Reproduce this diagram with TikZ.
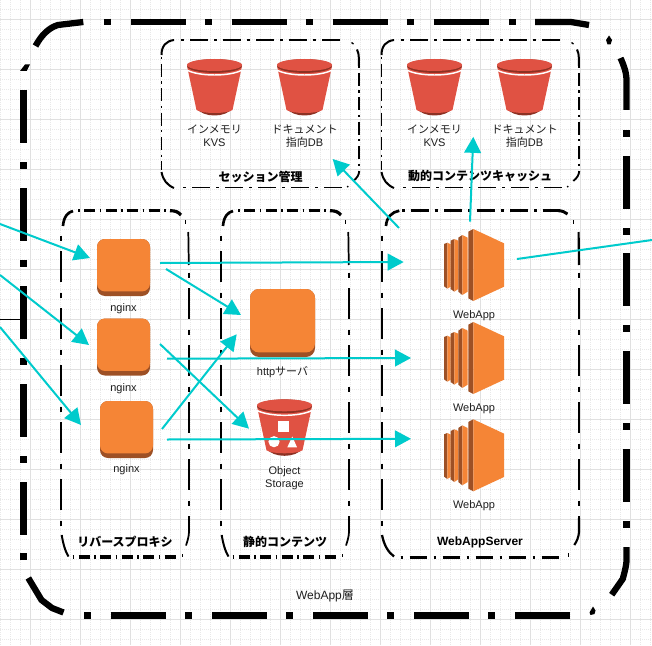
\documentclass[tikz,border=0pt]{standalone}
\usepackage{fontspec}
\setmainfont{Liberation Sans}
\newfontfamily\jp{Noto Sans CJK JP}
\usetikzlibrary{arrows.meta}
\definecolor{awsorange}{HTML}{F58536}
\definecolor{awsbrown}{HTML}{9D5025}
\definecolor{awsred}{HTML}{E05243}
\definecolor{awsdark}{HTML}{8C3123}
\definecolor{flowc}{HTML}{00CBCC}
\definecolor{gridmajor}{HTML}{E0E0E0}
\definecolor{gridminor}{HTML}{E8E8E8}
\definecolor{txt}{HTML}{1E1E1E}
\tikzset{
  anchorbox/.style={inner sep=0pt,outer sep=0pt,draw=none},
  small/.style={inner sep=0pt,align=center,text=txt,font=\fontsize{8.25}{9.4}\selectfont},
  grouptitle/.style={inner sep=0pt,align=center,text=black,font=\fontsize{9}{11}\selectfont\bfseries},
  flow/.style={draw=flowc,line width=1.5pt,-{Triangle[length=12pt,width=12.5pt]}},
  flowplain/.style={draw=flowc,line width=1.5pt},
  thickcorner/.style={line width=4.7pt,line join=round},
}
% side with scaled dash-dot: start at a dot. #1 from, #2 to, #3 period in px, #4 width in px
\newcommand\dside[4]{%
  \pgfmathsetmacro\dsa{0.75*0.53*#3}\pgfmathsetmacro\dsb{0.75*0.19*#3}\pgfmathsetmacro\dsc{0.75*0.09*#3}%
  \draw[line width=#4*0.75pt,dash pattern=on \dsc pt off \dsb pt on \dsa pt off \dsb pt] #1 -- #2;}
\newcommand\bucketshape[2]{%
  \begin{scope}[shift={(#1,#2)}]
    \fill[awsdark] (-18,49) .. controls (-12,59) and (12,59) .. (18,49) -- cycle;
    \fill[awsred] (-27.3,8) -- (-18,51) .. controls (-12,55) and (12,55) .. (18,51) -- (27.3,8) -- cycle;
    \draw[white,line width=1.1pt] (-27.4,11.2) .. controls (-15,17.6) and (15,17.6) .. (27.4,11.2);
    \fill[awsdark] (0,7) ellipse [x radius=27.5,y radius=6.9];
    \fill[awsred] (0,6) ellipse [x radius=27.5,y radius=6];
  \end{scope}}
\newcommand\ectwo[2]{%
  \begin{scope}[shift={(#1,#2)}]
    \fill[awsbrown] (0,0) -- (3.3,-1.3) -- (3.3,44.7) -- (0,42.3) -- cycle;
    \fill[awsorange] (3.3,-1.3) -- (6.7,0.3) -- (6.7,42.7) -- (3.3,44.7) -- cycle;
    \fill[awsbrown] (6.7,-3.3) -- (10.3,-5) -- (10.3,47.7) -- (6.7,45) -- cycle;
    \fill[awsorange] (10.3,-5) -- (14.3,-3.3) -- (14.3,45) -- (10.3,47.7) -- cycle;
    \fill[awsbrown] (14.3,-6.3) -- (18.3,-9) -- (18.3,51) -- (14.3,47.7) -- cycle;
    \fill[awsorange] (18.3,-9) -- (23.7,-6.3) -- (23.7,47.7) -- (18.3,51) -- cycle;
    \fill[awsbrown] (24.3,-12.3) -- (29.3,-15) -- (29.3,57) -- (24.3,54.3) -- cycle;
    \fill[awsorange] (29.3,-15) -- (60,-0.7) -- (60,42.7) -- (29.3,57) -- cycle;
  \end{scope}}
\newcommand\orangeicon[6]{% name, cx, cy, w, h, radius
  \node[anchorbox,fill=awsbrown,rounded corners=#6*0.75pt,minimum width=#4*0.75pt,minimum height=#5*0.75pt] (#1) at (#2,#3) {};
  \fill[awsorange,rounded corners=#6*0.75pt] (#1.north west) rectangle ([yshift=3.4pt]#1.south east);}
\begin{document}
\begin{tikzpicture}[x=0.75pt,y=-0.75pt]
\useasboundingbox (0,0) rectangle (652,645);
\fill[white] (0,0) rectangle (652,645);
% grid
\begin{scope}
\clip (0,0) rectangle (652,645);
\foreach \i in {0,...,65}{
  \pgfmathsetmacro\gx{0.7+10*\i}
  \draw[gridminor,line width=0.5pt,dash pattern=on 0.75pt off 0.75pt] (\gx,0) -- (\gx,645);
}
\foreach \i in {0,...,64}{
  \pgfmathsetmacro\gy{9.3+10*\i}
  \draw[gridminor,line width=0.5pt,dash pattern=on 0.75pt off 0.75pt] (0,\gy) -- (652,\gy);
}
\foreach \i in {0,...,13}{
  \pgfmathsetmacro\gx{30.7+50*\i}
  \draw[gridmajor,line width=0.75pt] (\gx,0) -- (\gx,645);
}
\foreach \i in {0,...,12}{
  \pgfmathsetmacro\gy{19.3+50*\i}
  \draw[gridmajor,line width=0.75pt] (0,\gy) -- (652,\gy);
}
\end{scope}
% WebApp layer frame
\coordinate (layerleft) at (23.4,319);
\coordinate (farleft) at (0,319);
\foreach \s in {104,205,306,407,509}{\fill (\s,18.8) rectangle ++(7,6.4);}
\foreach \s in {131,232,333,434}{\fill (\s,18.8) rectangle ++(54.5,6.4);}
\draw[thickcorner,line join=bevel] (35.5,46) .. controls (41,36) and (48,28) .. (58,25) -- (83.3,22);
\draw[thickcorner,line join=bevel] (535,22) -- (571,22) -- (589,25);
\fill (609,35.5) -- (612,40) -- (610.5,44.5) -- (607.5,44.5) -- (606,40) -- cycle;
\fill (20,71) -- (25,64.5) -- (30,64.5) -- (26.7,71) -- cycle;
\draw[thickcorner,line join=bevel] (620.5,58) .. controls (624,66) and (626.5,72) .. (626.6,82) -- (626.6,110);
\foreach \s in {130,228,325,423,521}{\fill (623.2,\s) rectangle ++(6.8,6.8);}
\foreach \s in {156,253,351,449}{\fill (623.2,\s) rectangle ++(6.8,52.7);}
\draw[thickcorner,line join=bevel] (626.6,547) -- (626.6,560) .. controls (626,568) and (624,574) .. (622.7,579) -- (611.7,594.7);
\fill (593,606.5) -- (595.5,610.5) -- (594.5,614) -- (590.5,615) -- (589.5,612.5) -- cycle;
\foreach \s in {515,414,313,212,111}{\fill (\s,612.2) rectangle ++(54.5,6.6);}
\foreach \s in {488,387,286,185,84}{\fill (\s,612.2) rectangle ++(7,6.6);}
\draw[thickcorner,line join=bevel] (28.3,578) -- (41.5,600) -- (52,608) -- (63.5,612.5);
\foreach \s in {90,188,286,384,482}{\fill (20,\s) rectangle ++(6.8,52.7);}
\foreach \s in {162,260,358,456,553}{\fill (20,\s) rectangle ++(6.8,7);}
% group frames
\node[anchorbox,minimum width=197.5*0.75pt,minimum height=147.7*0.75pt] (grpA) at (260.25,113.85) {};
\node[anchorbox,minimum width=197.5*0.75pt,minimum height=147.7*0.75pt] (grpB) at (480.25,113.85) {};
% frames A and B (same drawing, shifted)
\foreach \dx in {0,220}{
\begin{scope}[shift={(\dx,0)}]
  \draw[line width=1.5pt] (161.5,55) .. controls (161.5,46) and (166,41) .. (174,40);
  \dside{(181,40)}{(344,40)}{33}{1.7}
  \draw[line width=1pt] (351.5,42.5) -- (353.5,44);
  \draw[line width=1.5pt] (358.8,66) -- (358.8,58) .. controls (358.8,54) and (358,52) .. (357,49.5);
  \dside{(358.9,66)}{(358.9,168)}{24.4}{1.9}
  \draw[line width=1.4pt] (359.2,171) .. controls (359,175) and (357,178) .. (353.3,181);
  \fill (347.7,186.7) circle (1);
  \dside{(183,187.5)}{(343,187.5)}{33}{1.7}
  \draw[line width=1.5pt] (161.5,172) .. controls (163,180) and (167,185) .. (174,188);
  \dside{(161.5,57)}{(161.5,170)}{24.4}{1.9}
\end{scope}}
% frames C, D
\foreach \dx in {0,160}{
\begin{scope}[shift={(\dx,0)}]
  \draw[line width=2pt] (63,226) .. controls (63.5,217) and (68,212) .. (73,211);
  \dside{(78,210.7)}{(172,210.7)}{21.5}{3}
  \draw[line width=2.4pt] (170,210.7) .. controls (176,210.7) and (178,212) .. (181,215);
  \fill (184.6,219.5) rectangle ++(1.2,4);
  \draw[line width=1.3pt] (188.3,232) -- (188.8,265);
  \dside{(189,272.5)}{(189,518)}{57}{1.5}
  \draw[line width=1.3pt] (189,518) -- (189,532) .. controls (188.8,537) and (187.5,541) .. (186,545.5);
  \fill (182,553.5) rectangle ++(1,3);
  \dside{(72.5,557)}{(177,557)}{21.5}{3.3}
  \draw[line width=1.5pt] (61.7,535) .. controls (63,543) and (65,551) .. (68.5,556.5);
  \dside{(61,235.5)}{(61,527)}{57}{1.4}
\end{scope}}
% frame E
\draw[line width=2pt] (386,226) .. controls (386.5,217) and (392,212) .. (399.3,210.7);
\dside{(402,210.7)}{(560,210.7)}{33}{3}
\draw[line width=2.2pt] (558,210.7) .. controls (562,210.7) and (565,212) .. (567.5,214);
\fill (572.8,219.5) rectangle ++(1.2,4);
\draw[line width=1.6pt] (578.6,232) -- (579,265);
\dside{(579,272.5)}{(579,518)}{57}{2}
\draw[line width=1.6pt] (579,518) -- (579,532) .. controls (578.6,537) and (577,541) .. (574.3,545);
\fill (567.8,552.5) rectangle ++(1,4);
\dside{(400.5,557)}{(561,557)}{33}{3}
\draw[line width=1.7pt] (382,535) .. controls (384,545) and (388,552) .. (394,556.5);
\dside{(381.5,235.5)}{(381.5,527)}{57}{2}
% icons
\bucketshape{214.5}{59}
\bucketshape{304.5}{59}
\bucketshape{434.5}{59}
\bucketshape{524.5}{59}
\node[anchorbox,minimum width=55*0.75pt,minimum height=57*0.75pt] (kvsA) at (214.5,87.5) {};
\node[anchorbox,minimum width=55*0.75pt,minimum height=57*0.75pt] (docA) at (304.5,87.5) {};
\node[anchorbox,minimum width=55*0.75pt,minimum height=57*0.75pt] (kvsB) at (434.5,87.5) {};
\node[anchorbox,minimum width=55*0.75pt,minimum height=57*0.75pt] (docB) at (524.5,87.5) {};
\orangeicon{nginxa}{123.5}{267.5}{53}{57}{8}
\orangeicon{nginxb}{123.5}{347}{53}{57}{8}
\orangeicon{nginxc}{126.5}{429.5}{53}{57}{8}
\orangeicon{httpsrv}{282.5}{323}{65}{68}{9}
\bucketshape{284.5}{399.3}
\node[anchorbox,minimum width=55*0.75pt,minimum height=57*0.75pt] (objstore) at (284.5,427.7) {};
\fill[white] (278,421) rectangle (289,431.5);
\fill[white] (274,441.7) circle [radius=5.6];
\fill[white] (292.3,436.5) -- (297,447.3) -- (287.3,447.3) -- cycle;
\ectwo{444}{244}
\ectwo{444}{337}
\ectwo{444}{434.3}
\node[anchorbox,minimum width=60*0.75pt,minimum height=72*0.75pt] (weba) at (474,265) {};
\node[anchorbox,minimum width=60*0.75pt,minimum height=72*0.75pt] (webb) at (474,358) {};
\node[anchorbox,minimum width=60*0.75pt,minimum height=72*0.75pt] (webc) at (474,455.3) {};
% labels
\node[small] (lkvsA) at (214.5,136) {{\jp インメモリ}\\KVS};
\node[small] (ldocA) at (304.5,136) {{\jp ドキュメント}\\{\jp 指向}DB};
\node[small] (lkvsB) at (434.5,136) {{\jp インメモリ}\\KVS};
\node[small] (ldocB) at (524.5,136) {{\jp ドキュメント}\\{\jp 指向}DB};
\node[small] (lnga) at (123.5,309) {nginx};
\node[small] (lngb) at (123.5,388.5) {nginx};
\node[small] (lngc) at (126.5,469.5) {nginx};
\node[small] (lhttp) at (282.5,372) {http{\jp サーバ}};
\node[small] (lobj) at (284.5,478) {Object\\Storage};
\node[small] (lweba) at (474,315.5) {WebApp};
\node[small] (lwebb) at (474,408.5) {WebApp};
\node[small] (lwebc) at (474,506) {WebApp};
\node[grouptitle] (tA) at (260.5,176.5) {\jp セッション管理};
\node[grouptitle] (tB) at (480,176.5) {\jp 動的コンテンツキャッシュ};
\node[grouptitle] (tC) at (125,541.5) {\jp リバースプロキシ};
\node[grouptitle] (tD) at (285,541.5) {\jp 静的コンテンツ};
\node[grouptitle] (tE) at (480,542.5) {WebAppServer};
\node[inner sep=0pt,text=txt,font=\fontsize{9}{11}\selectfont] (tLayer) at (325,595.5) {WebApp{\jp 層}};
% connectors
\coordinate (ina) at (0,224);
\coordinate (inb) at (0,275);
\coordinate (inc) at (0,327);
\coordinate (outa) at (652,240);
\draw[black,line width=0.6pt] (farleft) -- (layerleft);
\draw[flow] (ina) -- ([shift={(-33.5,-9.5)}]nginxa.center);
\draw[flow] (inb) -- ([shift={(-34.5,-2)}]nginxb.center);
\draw[flow] (inc) -- ([shift={(-45.5,-4.5)}]nginxc.center);
\draw[flow] ([shift={(36.5,-4.5)}]nginxa.center) -- ([shift={(-70.3,-3)}]weba.center);
\draw[flow] ([shift={(42.5,1.5)}]nginxa.center) -- ([shift={(-41.5,-8)}]httpsrv.center);
\draw[flow] ([shift={(36.5,-3)}]nginxb.center) -- ([shift={(-35.5,1)}]objstore.center);
\draw[flow] ([shift={(43.5,11.7)}]nginxb.center) -- ([shift={(-63,0)}]webb.center);
\draw[flow] ([shift={(35.5,-0.5)}]nginxc.center) -- ([shift={(-45.8,11.3)}]httpsrv.center);
\draw[flow] ([shift={(40.5,10)}]nginxc.center) -- ([shift={(-63,-16.5)}]webc.center);
\draw[flow] ([shift={(-75,-37)}]weba.center) -- ([shift={(72.45,45.15)}]grpA.center);
\draw[flow] ([shift={(-4,-43.3)}]weba.center) -- ([shift={(-7,23)}]grpB.center);
\draw[flowplain] ([shift={(43,-6)}]weba.center) -- (outa);
\end{tikzpicture}
\end{document}
